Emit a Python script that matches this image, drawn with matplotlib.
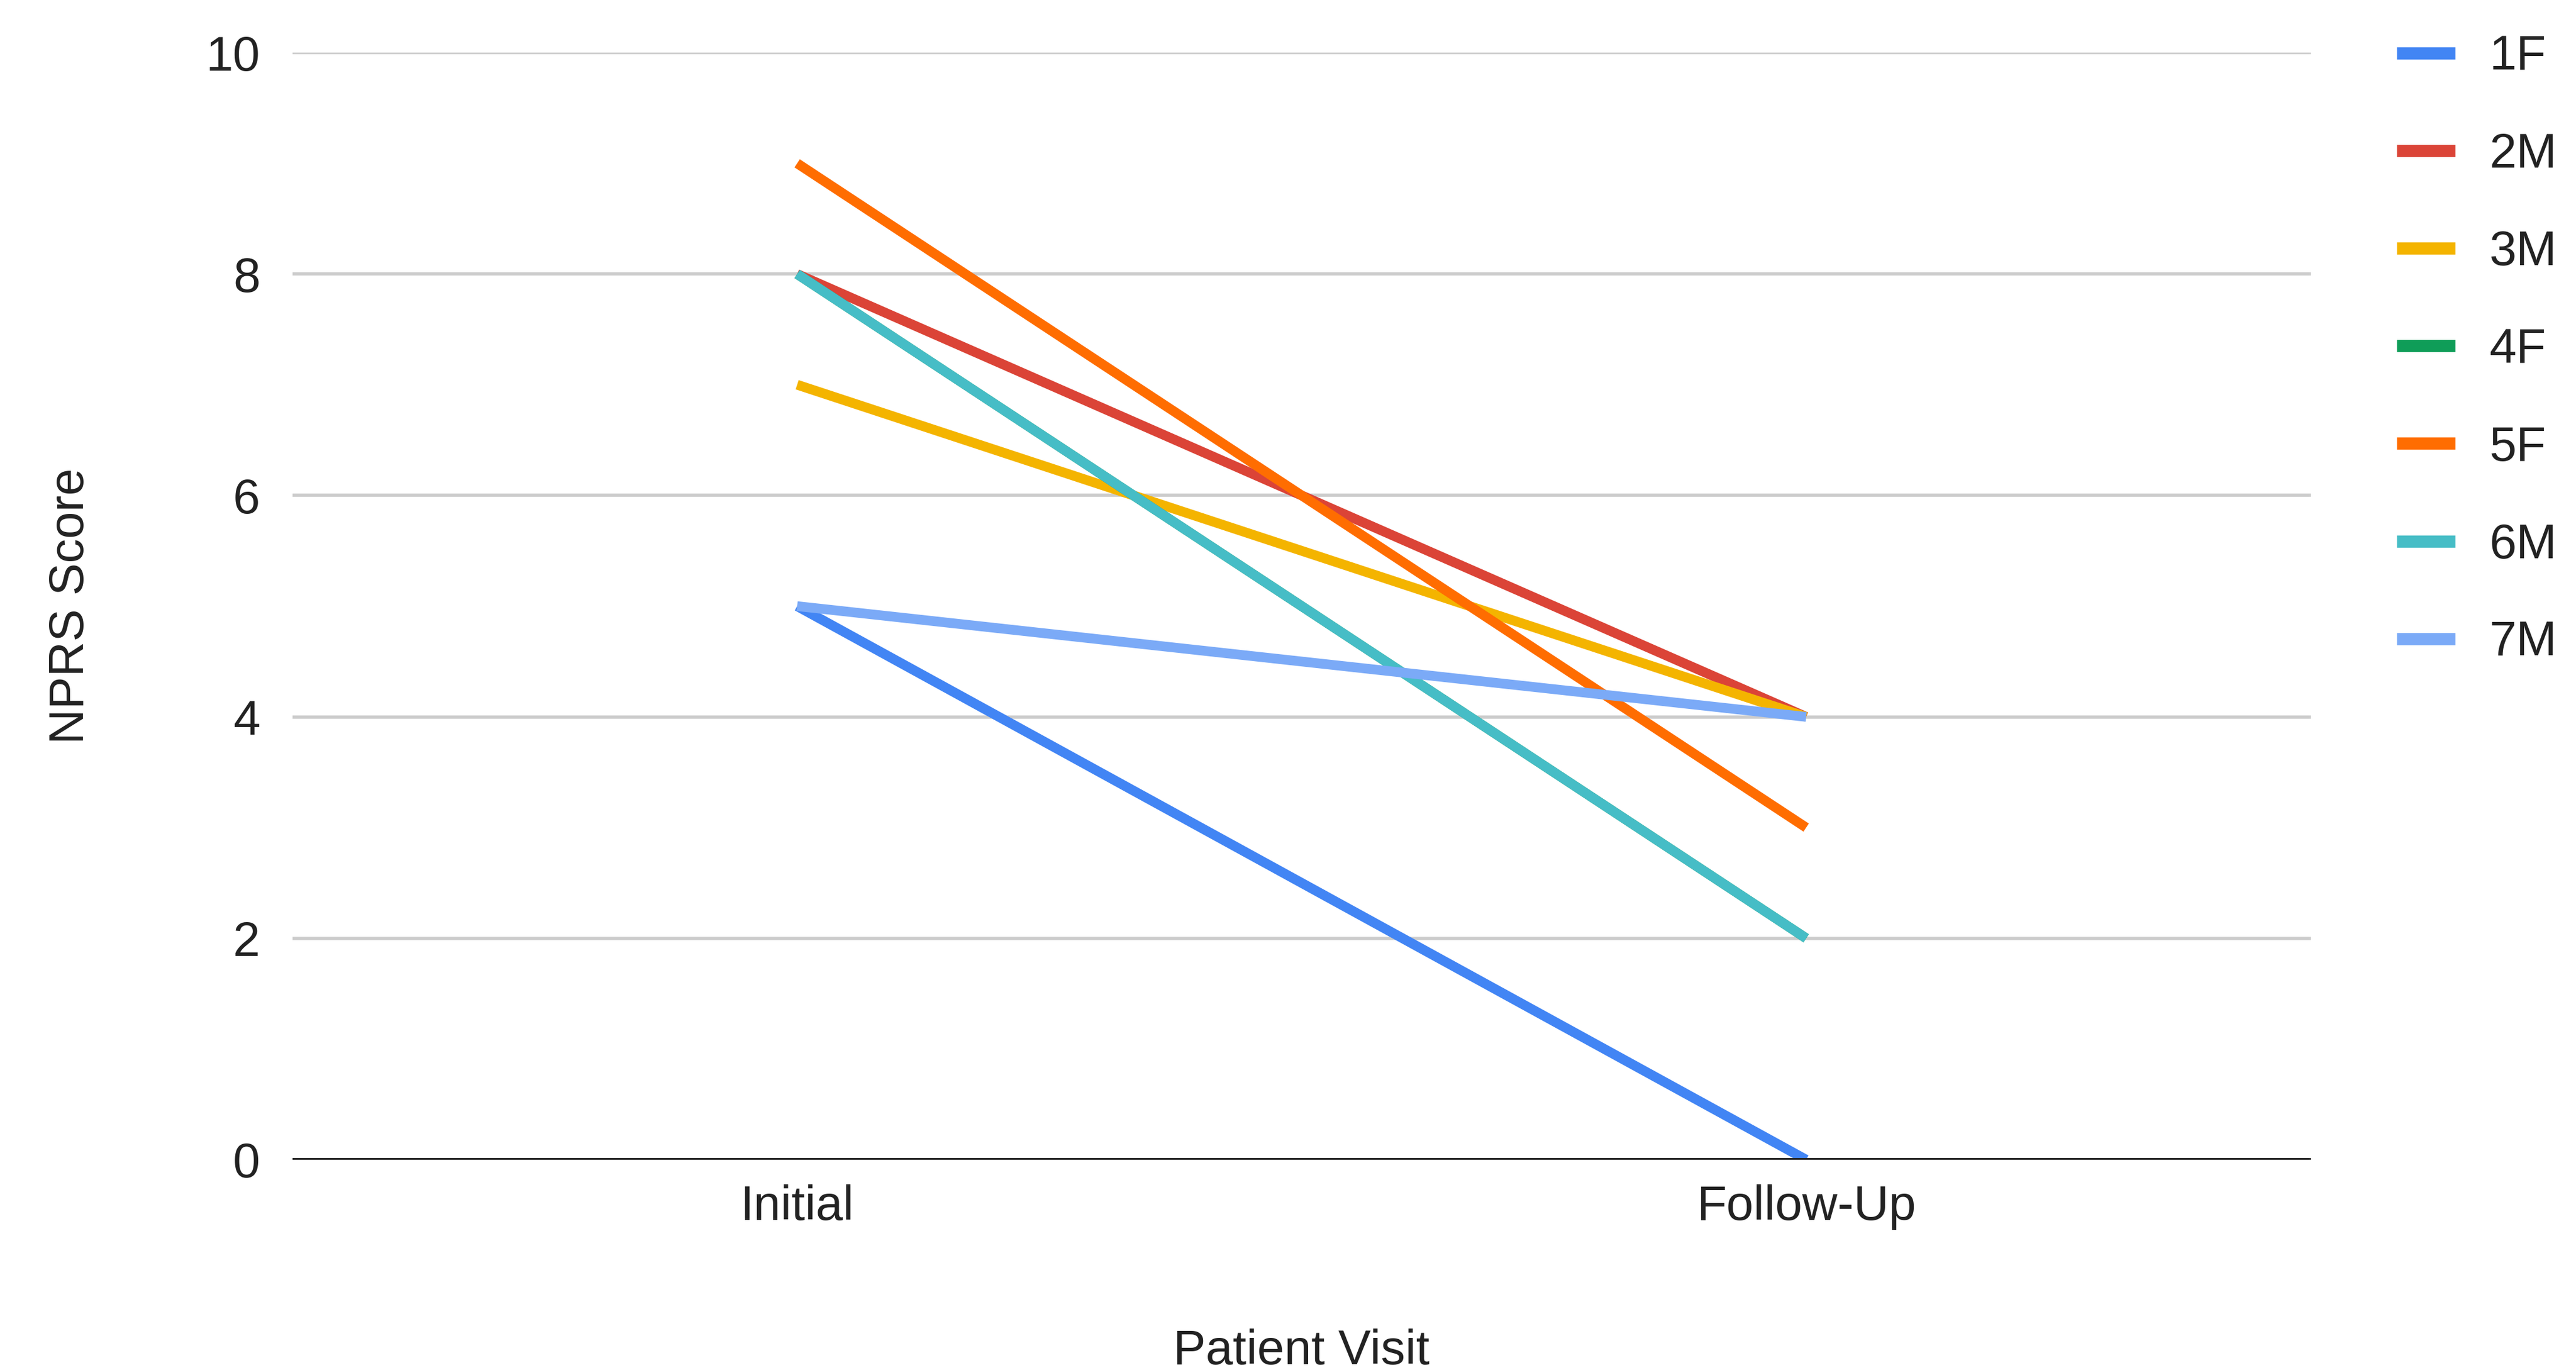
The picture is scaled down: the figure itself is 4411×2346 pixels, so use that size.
import matplotlib.pyplot as plt

plt.rcParams['font.family'] = ['Liberation Sans', 'DejaVu Sans']

visits = ["Initial", "Follow-Up"]
patients = ["1F", "2M", "3M", "4F", "5F", "6M", "7M"]
initial_scores = [5, 8, 7, 8, 9, 8, 5]
followup_scores = [0, 4, 4, 2, 3, 2, 4]
colors = ["#4285F4", "#DB4437", "#F4B400", "#0F9D58", "#FF6D01", "#46BDC6", "#7BAAF7"]

fig = plt.figure(figsize=(44.11, 23.46), dpi=100)
ax = fig.add_axes([0.1136, 0.1535, 0.7834, 0.8081])

x = list(range(len(visits)))
for name, a, b, c in zip(patients, initial_scores, followup_scores, colors):
    ax.plot(x, [a, b], color=c, linewidth=12, label=name, solid_capstyle="butt")

ax.set_xlim(-0.5, 1.5)
ax.set_ylim(0, 10)
ax.set_yticks([0, 2, 4, 6, 8, 10])
ax.set_xticks(x, visits)

for y in [2, 4, 6, 8, 10]:
    ax.axhline(y, color="#cccccc", linewidth=4, zorder=0)
ax.axhline(0, color="#222222", linewidth=5, zorder=3)

for s in ax.spines.values():
    s.set_visible(False)
ax.tick_params(axis="both", length=0, labelsize=60, colors="#222222")
ax.tick_params(axis="y", pad=40)
ax.tick_params(axis="x", pad=30)

ax.set_ylabel("NPRS Score", fontsize=60, color="#222222", labelpad=139)
ax.set_xlabel("Patient Visit", fontsize=60, color="#222222", labelpad=122)

leg = ax.legend(loc="upper left", bbox_to_anchor=(1.021, 1.056), frameon=False,
                fontsize=60, handlelength=1.2, handletextpad=0.7, labelspacing=1.07)
for line in leg.get_lines():
    line.set_linewidth(15)
for t in leg.get_texts():
    t.set_color("#222222")

fig.savefig("out.png", dpi=100)
